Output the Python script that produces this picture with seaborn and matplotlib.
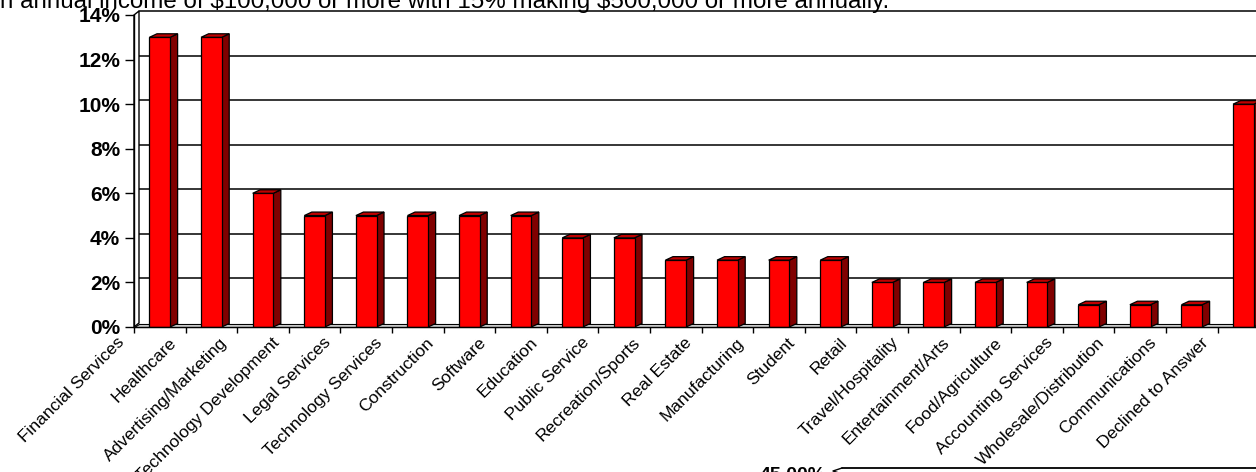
import pandas as pd
import seaborn as sns
import matplotlib.pyplot as plt
from matplotlib.patches import Polygon
from matplotlib.transforms import ScaledTranslation

# data (percent of respondents)
industries = [
    "Financial Services", "Healthcare", "Advertising/Marketing",
    "Technology Development", "Legal Services", "Technology Services",
    "Construction", "Software", "Education", "Public Service",
    "Recreation/Sports", "Real Estate", "Manufacturing", "Student",
    "Retail", "Travel/Hospitality", "Entertainment/Arts",
    "Food/Agriculture", "Accounting Services", "Wholesale/Distribution",
    "Communications", "Declined to Answer",
]
share = [13, 13, 6, 5, 5, 5, 5, 5, 4, 4, 3, 3, 3, 3, 2, 2, 2, 2, 1, 1, 1, 10]
y_ticks = [0, 2, 4, 6, 8, 10, 12, 14]
y_labels = ["0%", "2%", "4%", "6%", "8%", "10%", "12%", "14%"]
title_text = "n annual income of \\$100,000 or more with 15% making \\$500,000 or more annually."

df = pd.DataFrame({"industry": industries, "share": share})

sns.set_theme(style="white")
plt.rcParams["font.family"] = ["Liberation Sans", "DejaVu Sans"]

W, H = 1256, 472
fig = plt.figure(figsize=(W / 100, H / 100), dpi=100)
n = len(industries)
px_per_cat = 51.6
ax = fig.add_axes([134 / W, (H - 327) / H, n * px_per_cat / W, 312 / H])

sns.barplot(data=df, x="industry", y="share", order=industries,
            color="#FF0000", saturation=1, width=0.4,
            edgecolor="black", linewidth=0.9, ax=ax, zorder=3)

ax.set_xlim(-0.5, n - 0.5)
ax.set_ylim(0, 14)

# pixel -> data conversions
dx_unit = 1 / px_per_cat
dy_unit = 14 / 312

# 3D faces on the bars (side + top)
bdx, bdy = 7.5 * dx_unit, 3.5 * dy_unit
for p in list(ax.patches):
    x0 = p.get_x()
    x1 = x0 + p.get_width()
    h = p.get_height()
    side = Polygon([(x1, 0), (x1 + bdx, bdy), (x1 + bdx, h + bdy), (x1, h)],
                   closed=True, facecolor="#800000", edgecolor="black",
                   linewidth=0.9, zorder=2.9)
    top = Polygon([(x0, h), (x0 + bdx, h + bdy), (x1 + bdx, h + bdy), (x1, h)],
                  closed=True, facecolor="#C00000", edgecolor="black",
                  linewidth=0.9, zorder=3.1, clip_on=False)
    ax.add_patch(side)
    ax.add_patch(top)

# back wall gridlines (shifted up/right like the 3D wall)
wdx, wdy = 5 * dx_unit, 4 * dy_unit
for v in y_ticks[1:]:
    ax.plot([-0.5 + wdx, n + 1], [v + wdy, v + wdy], color="black",
            linewidth=1.1, zorder=1, clip_on=False)

# floor and left wall
floor = Polygon([(-0.5, 0), (n + 1, 0), (n + 1, wdy * 0.7), (-0.5 + wdx, wdy * 0.7)],
                closed=True, facecolor="#D4D4D4", edgecolor="black",
                linewidth=0.8, zorder=1.5, clip_on=False)
wall = Polygon([(-0.5, 0), (-0.5, 14), (-0.5 + wdx, 14 + wdy), (-0.5 + wdx, wdy)],
               closed=True, facecolor="white", edgecolor="black",
               linewidth=1.0, zorder=1.5, clip_on=False)
ax.add_patch(floor)
ax.add_patch(wall)

for s in ["top", "right"]:
    ax.spines[s].set_visible(False)
for s in ["left", "bottom"]:
    ax.spines[s].set_color("black")
    ax.spines[s].set_linewidth(1.0)
    ax.spines[s].set_zorder(4)

ax.set_xlabel("")
ax.set_ylabel("")
ax.set_yticks(y_ticks)
ax.set_yticklabels(y_labels, fontsize=15, fontweight="bold")
ax.tick_params(axis="y", direction="out", length=6.5, width=1.0,
               pad=3.5, colors="black", left=True)

# x ticks sit on category boundaries, labels hang off the left boundary
bounds = [i - 0.5 for i in range(n + 1)]
ax.set_xticks(bounds)
ax.set_xticklabels(industries + [""], fontsize=12.5, rotation=45,
                   ha="right", va="center", rotation_mode="anchor")
ax.tick_params(axis="x", direction="out", length=4.5, width=1.0,
               pad=5, colors="black", bottom=True)
shift = ScaledTranslation(-12 / 100, 0, fig.dpi_scale_trans)
for lab in ax.get_xticklabels():
    lab.set_transform(lab.get_transform() + shift)
ax.grid(False)

# cut-off caption at the top
fig.text(0.0, (H - 8) / H, title_text, fontsize=17.4, ha="left",
         va="baseline", color="black")

# bits of the next chart peeking in at the bottom
fig.text(760 / W, (H - 467) / H, "45.00%", fontsize=14, fontweight="bold",
         ha="left", va="top", color="black")
fig.add_artist(plt.Line2D([842 / W, 833 / W, 842 / W],
                          [(H - 468) / H, (H - 471) / H, (H - 474) / H],
                          transform=fig.transFigure, color="black", linewidth=1.0))
fig.add_artist(plt.Line2D([842 / W, 1.0], [(H - 468) / H, (H - 468) / H],
                          transform=fig.transFigure, color="black", linewidth=1.3))

fig.savefig("out.png", dpi=100)
